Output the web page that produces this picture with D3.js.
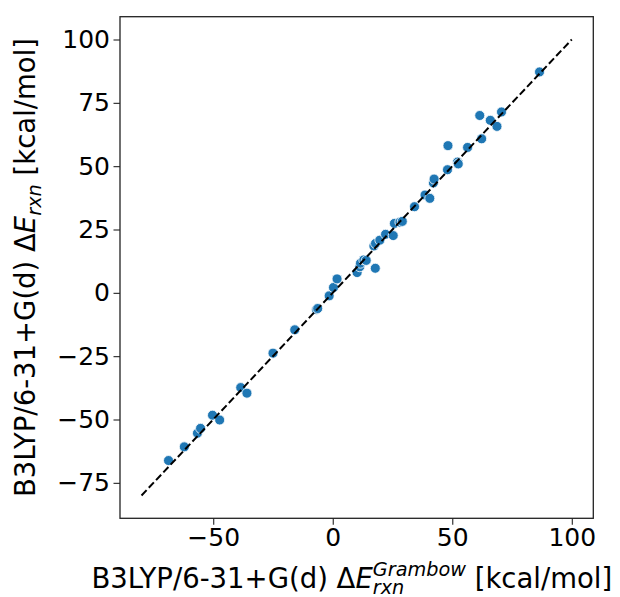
<!DOCTYPE html>
<html>
<head>
<meta charset="utf-8">
<script src="https://cdn.jsdelivr.net/npm/d3@7"></script>
<style>
  html, body { margin: 0; padding: 0; background: #fff; }
  svg { display: block; }
  text { font-family: "DejaVu Sans", sans-serif; fill: #000; }
</style>
</head>
<body>
<svg id="chart" width="620" height="597"></svg>
<script>
// Reference energies (x) and computed energies (y), kcal/mol
const xVals = [-68.7, -62.1, -56.6, -55.3, -50.3, -47.3, -38.5, -35.9, -25.0, -15.9,
  -6.8, -6.3, -1.5, 0.3, 1.8, 10.2, 11.3, 11.6, 13.0, 14.0,
  17.8, 17.2, 17.9, 19.7, 22.1, 25.3, 25.8, 28.1, 29.1, 34.2,
  38.6, 40.6, 42.1, 42.4, 48.0, 48.2, 52.2, 52.5, 56.4, 61.5,
  62.3, 65.9, 68.7, 70.6, 86.5];
const yVals = [-66.2, -60.8, -55.4, -53.5, -48.3, -50.2, -37.4, -39.6, -23.8, -14.6,
  -6.6, -6.2, -1.2, 2.1, 5.5, 8.0, 10.3, 11.7, 13.0, 12.8,
  9.7, 18.5, 19.5, 20.8, 23.1, 22.6, 27.4, 27.9, 28.2, 34.0,
  38.6, 37.3, 43.4, 44.9, 48.6, 58.1, 51.6, 50.9, 57.4, 70.0,
  60.8, 68.1, 65.7, 71.4, 87.2];
const xTicks = [-50, 0, 50, 100];
const yTicks = [-75, -50, -25, 0, 25, 50, 75, 100];
const parityLine = [-80, 100];
const xDomain = [-89, 109];
const yDomain = [-89, 109];

const svg = d3.select("#chart");
const L = 120, R = 593.3, T = 16.7, B = 518.3;
const x = d3.scaleLinear().domain(xDomain).range([L, R]);
const y = d3.scaleLinear().domain(yDomain).range([B, T]);
const FS = 25;     // tick labels
const LFS = 27.5;  // axis labels

// points
const pts = xVals.map((v, i) => [v, yVals[i]]);
svg.append("g").selectAll("circle").data(pts).join("circle")
  .attr("cx", d => x(d[0])).attr("cy", d => y(d[1])).attr("r", 5)
  .attr("fill", "#1f77b4").attr("stroke", "#fff").attr("stroke-width", 0.8);

// parity line
svg.append("line")
  .attr("x1", x(parityLine[0])).attr("y1", y(parityLine[0]))
  .attr("x2", x(parityLine[1])).attr("y2", y(parityLine[1]))
  .attr("stroke", "#000").attr("stroke-width", 2)
  .attr("stroke-dasharray", "7.4,3.2");

// frame
svg.append("rect").attr("x", L).attr("y", T).attr("width", R - L).attr("height", B - T)
  .attr("fill", "none").attr("stroke", "#222").attr("stroke-width", 1.3);

// axes
const fmt = d3.format("");
const gx = svg.append("g").attr("transform", `translate(0,${B})`)
  .call(d3.axisBottom(x).tickValues(xTicks).tickSize(6.5).tickPadding(3.5).tickFormat(fmt));
const gy = svg.append("g").attr("transform", `translate(${L},0)`)
  .call(d3.axisLeft(y).tickValues(yTicks).tickSize(6.5).tickPadding(3.5).tickFormat(fmt));
[gx, gy].forEach(g => {
  g.select(".domain").remove();
  g.selectAll(".tick line").attr("stroke", "#222").attr("stroke-width", 1.1);
  g.selectAll(".tick text").attr("font-size", FS).attr("font-family", "DejaVu Sans").attr("fill", "#000");
});

// axis labels with mathtext-like sub/superscripts
function mathLabel(g, pre, sup, sub, post) {
  const t = g.append("text").attr("font-size", LFS).attr("text-anchor", "start");
  t.append("tspan").text(pre + "\u0394");
  t.append("tspan").attr("font-style", "italic").text("E");
  let supT = null;
  if (sup) {
    supT = t.append("tspan").attr("font-style", "italic").attr("font-size", LFS * 0.7)
      .attr("dy", -LFS * 0.42).text(sup);
  }
  const subT = t.append("tspan").attr("font-style", "italic").attr("font-size", LFS * 0.7)
    .attr("dy", sup ? LFS * 0.42 + LFS * 0.24 : LFS * 0.24).text(sub);
  const postT = t.append("tspan").attr("dy", -LFS * 0.24).text(post);
  if (supT) {
    const ws = supT.node().getComputedTextLength();
    const wb = subT.node().getComputedTextLength();
    subT.attr("dx", -ws);
    postT.attr("dx", Math.max(0, ws - wb));
  }
  const w = t.node().getComputedTextLength();
  return { t, w };
}

const gxl = svg.append("g");
const xl = mathLabel(gxl, "B3LYP/6-31+G(d) ", "Grambow", "rxn", " [kcal/mol]");
xl.t.attr("x", 91.5).attr("y", 587.5);

const gyl = svg.append("g").attr("transform", `translate(34.5,${(T + B) / 2}) rotate(-90)`);
const yl = mathLabel(gyl, "B3LYP/6-31+G(d) ", null, "rxn", " [kcal/mol]");
yl.t.attr("x", -yl.w / 2).attr("y", 0);
</script>
</body>
</html>
